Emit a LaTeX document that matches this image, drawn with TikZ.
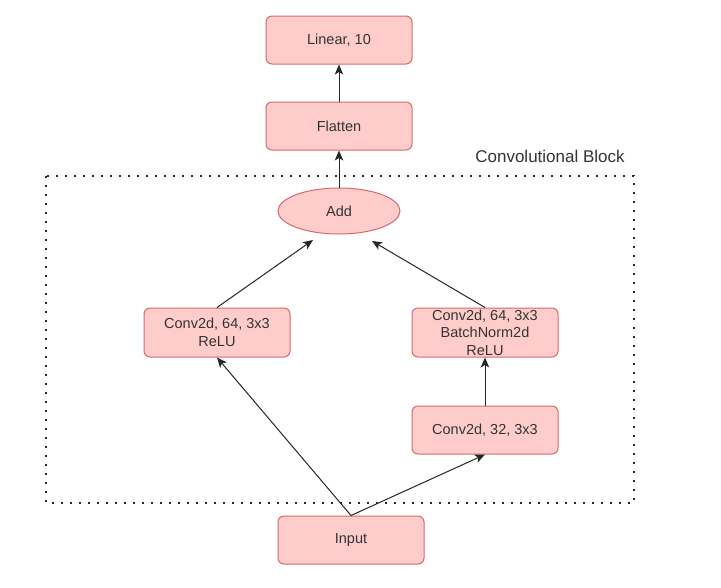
\documentclass[tikz,border=0pt]{standalone}
\usepackage{fontspec}
\setmainfont{Liberation Sans}
\usetikzlibrary{shapes.geometric,arrows.meta}
\definecolor{boxfill}{HTML}{FFCCCC}
\definecolor{boxdraw}{HTML}{D46A6A}
\definecolor{txt}{HTML}{333333}
\begin{document}
\begin{tikzpicture}[x=1pt,y=-1pt,
  layer/.style={draw=boxdraw, fill=boxfill, line width=1pt, rounded corners=6pt,
    minimum width=146pt, minimum height=48pt, inner sep=0pt, align=center,
    text=txt, font=\fontsize{14.5}{17.5}\selectfont},
  addnode/.style={ellipse, draw=boxdraw, fill=boxfill, line width=1pt,
    minimum width=122pt, minimum height=46pt, inner sep=0pt,
    text=txt, font=\fontsize{14.5}{17.5}\selectfont},
  conn/.style={draw=black!85, line width=1pt, -{Stealth[length=10pt,width=8.5pt,inset=2.5pt]}},
  blockframe/.style={draw=black!85, line width=2pt, dash pattern=on 2pt off 7pt}
]
\useasboundingbox (0,0) rectangle (721,587);
\draw[blockframe] (46,176) rectangle (634,503);
\node[text=txt, font=\fontsize{17}{20}\selectfont] (blocklabel) at (550,156) {Convolutional Block};

\node[layer] (linear) at (339,40) {Linear, 10};
\node[layer] (flatten) at (339,126) {Flatten};
\node[addnode] (add) at (339,211) {Add};
\node[layer, minimum height=49pt] (convL) at (217,332.5) {Conv2d, 64, 3x3\\ReLU};
\node[layer, minimum height=49pt] (convR) at (485,332.5) {Conv2d, 64, 3x3\\BatchNorm2d\\ReLU};
\node[layer] (conv32) at (485,430) {Conv2d, 32, 3x3};
\node[layer] (input) at (351,540) {Input};

\coordinate (addL) at ([shift={(-26,29)}]add.center);
\coordinate (addR) at ([shift={(33,30)}]add.center);

\draw[conn] (flatten.north) -- (linear.south);
\draw[conn] (add.north) -- (flatten.south);
\draw[conn] (convL.north) -- (addL);
\draw[conn] (convR.north) -- (addR);
\draw[conn] (conv32.north) -- (convR.south);
\draw[conn] (input.north) -- (convL.south);
\draw[conn] (input.north) -- (conv32.south);
\end{tikzpicture}
\end{document}
